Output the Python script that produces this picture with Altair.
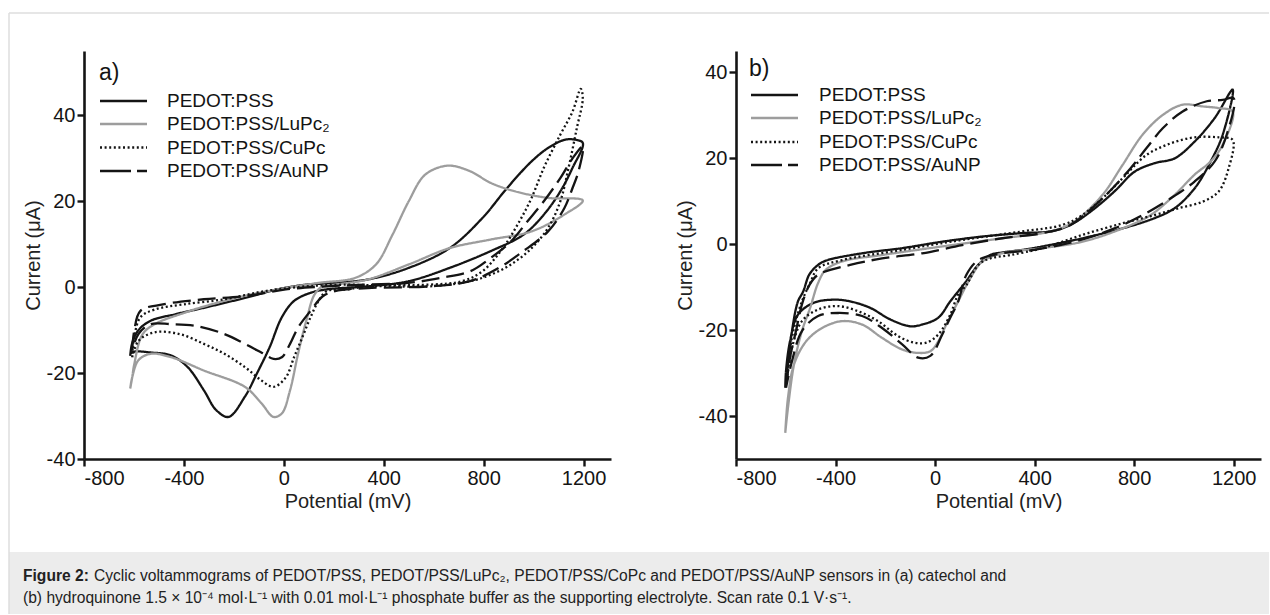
import altair as alt
import pandas as pd

FONT = "Liberation Sans, Arial, sans-serif"
INK = "#141414"

SERIES = ["PEDOT:PSS", "PEDOT:PSS/LuPc₂", "PEDOT:PSS/CuPc", "PEDOT:PSS/AuNP"]
COLORS = [INK, "#9d9d9d", INK, INK]
DASHES = [[1, 0], [1, 0], [2, 2.6], [18, 7]]
LEGEND_DASHES = [[1, 0], [1, 0], [2, 2.6], [31, 6]]

X_TICKS = [-800, -400, 0, 400, 800, 1200]
X_DOMAIN = [-800, 1310]
A_Y_TICKS = [-40, -20, 0, 20, 40]
A_Y_DOMAIN = [-40, 55]
B_Y_TICKS = [-40, -20, 0, 20, 40]
B_Y_DOMAIN = [-50, 45]

# ---- panel a) catechol : each loop from the left vertex, anodic branch to 1200 mV, back on the cathodic branch
A_PSS_X = [-615, -607, -582, -533, -435, -320, -156, -25, 90, 172, 336, 500, 664, 795, 894, 992, 1060, 1123, 1160, 1197,
           1156, 1107, 1041, 959, 828, 664, 500, 336, 172, 107, 41, -8, -57, -107, -156, -221, -271, -320, -385, -451, -533, -599, -615]
A_PSS_Y = [-16, -13, -10, -7.8, -6.3, -4.8, -2.5, -0.5, 0.6, 0.9, 1.8, 4.5, 9.1, 16.1, 23.1, 29.3, 32.5, 34.3, 34.4, 33.6,
           27.8, 22.3, 16.9, 12.2, 8.4, 4.5, 1.4, 0.2, -0.5, -1.3, -3.2, -7, -14, -20, -25.5, -30.2, -28.6, -24, -18.6, -15.9, -15.2, -15, -15.5]

A_LU_X = [-615, -607, -599, -566, -517, -400, -320, -156, 8, 139, 287, 369, 435, 500, 566, 656, 746, 828, 927, 1058, 1197,
          1123, 992, 828, 664, 500, 336, 205, 156, 123, 90, 57, 25, -8, -41, -90, -156, -320, -451, -533, -582, -607, -615]
A_LU_Y = [-23.6, -21, -18, -11, -8.6, -6, -4.5, -2, -0.2, 1, 2.2, 5.3, 12.2, 20, 26.2, 28.3, 27, 24.3, 22.3, 20.8, 20.2,
          16.9, 13, 11.1, 9.1, 5.3, 1.8, 0.6, 0.2, -1.7, -7.8, -15.5, -24, -29.4, -30.2, -27, -23.2, -19.4, -16.3, -15.5, -17, -21, -23.6]

A_CU_X = [-607, -599, -574, -517, -402, -238, -74, 90, 254, 336, 582, 713, 795, 877, 943, 992, 1041, 1107, 1156, 1189,
          1197, 1173, 1140, 1107, 1058, 992, 910, 828, 746, 582, 336, 254, 172, 139, 107, 74, 41, 8, -41, -90, -156, -238, -320, -418, -517, -582, -607]
A_CU_Y = [-16.3, -11.7, -7, -5.2, -4, -2.8, -0.9, 0.2, 0.6, 0.5, 0.6, 1.4, 3.7, 9.1, 15.3, 20.8, 27.8, 35.5, 40.9, 46.2,
          44, 37, 27.8, 20, 13.8, 9.1, 5.3, 2.9, 1.4, 0.2, 0.2, -0.5, -0.9, -3.2, -7, -11.7, -16.3, -21, -23.2, -21.7, -18.6, -15.5, -13.2, -10.9, -10.5, -12.5, -16.3]

A_AU_X = [-607, -599, -574, -484, -320, -156, 8, 172, 336, 500, 631, 746, 828, 910, 975, 1041, 1107, 1156, 1197,
          1180, 1156, 1123, 1058, 959, 861, 746, 582, 336, 205, 156, 107, 57, 25, -8, -41, -90, -156, -238, -353, -451, -533, -582, -607]
A_AU_Y = [-14.8, -10.2, -5.5, -4, -2.8, -2.1, -0.5, 0.2, 0.6, 1, 2.2, 3.7, 6.8, 10.7, 15.3, 20, 25.4, 30, 32.8,
          27, 23.1, 18.4, 13, 8.4, 4.5, 1.4, 0.2, -0.2, -0.9, -2.1, -5.5, -9.4, -13.2, -16.3, -16.7, -15.2, -13.2, -10.9, -9, -8.6, -8.6, -10.9, -14.8]

# ---- panel b) hydroquinone
B_PSS_X = [-602, -591, -575, -551, -530, -505, -470, -438, -293, -132, 29, 190, 351, 464, 544, 625, 721, 802, 883, 963, 1043, 1124, 1196,
           1156, 1108, 1043, 963, 883, 754, 593, 432, 351, 271, 222, 174, 120, 61, 13, -52, -100, -180, -261, -341, -406, -486, -551, -583, -599, -602]
B_PSS_Y = [-33.4, -28, -20.2, -13.3, -11, -7, -4.8, -3.8, -2.1, -0.9, 0.6, 1.8, 2.6, 3, 4.5, 7.6, 12.3, 16.9, 18.9, 20, 23.9, 29.4, 36,
           25.5, 19.3, 13, 8.4, 6.1, 3.7, 1.4, -0.5, -1.3, -1.9, -2.5, -4.8, -9, -13.3, -17.1, -18.7, -19.1, -17.5, -14.8, -13.3, -12.9, -13.6, -16.4, -22.6, -29.5, -33.4]

B_LU_X = [-602, -591, -567, -535, -502, -470, -440, -374, -213, 29, 270, 464, 560, 673, 754, 834, 915, 995, 1075, 1140, 1196,
          1156, 1108, 1043, 963, 866, 754, 593, 432, 270, 190, 142, 93, 45, 13, -19, -68, -132, -213, -293, -374, -454, -518, -567, -591, -602]
B_LU_Y = [-43.9, -38, -28, -20.2, -14.8, -9, -6, -4, -2.5, -0.5, 1.4, 3, 5.3, 11.5, 18.5, 25.5, 30.1, 32.5, 32.1, 31.7, 30.9,
          23.2, 19.3, 16.2, 11.5, 6.8, 3.7, 0.6, -0.9, -2.1, -4, -7.9, -13.3, -18.7, -22.6, -24.9, -25.3, -24.5, -21.8, -18.7, -17.9, -19.5, -22.6, -28, -35.7, -43.9]

B_CU_X = [-596, -586, -567, -535, -502, -470, -374, -132, 109, 351, 512, 592, 673, 754, 850, 947, 1043, 1140, 1196,
          1180, 1140, 1075, 979, 882, 754, 593, 432, 303, 222, 174, 126, 93, 61, 13, -35, -84, -148, -229, -309, -390, -470, -535, -575, -596]
B_CU_Y = [-31.9, -25.7, -19.5, -13.3, -9, -5.6, -3.7, -1.3, 1, 3, 4.5, 6.8, 10.7, 15.4, 20.8, 23.5, 24.9, 24.9, 24.3,
          17.7, 12.3, 9.9, 8.4, 6.8, 4.9, 2.2, -0.9, -2.5, -3.3, -4.8, -9.5, -11.7, -16.4, -21, -22.9, -22.9, -21.4, -17.9, -15.6, -14.4, -15.2, -17.9, -24.1, -31.9]

B_AU_X = [-599, -583, -559, -535, -505, -470, -341, -213, -52, 109, 270, 432, 544, 673, 786, 850, 915, 995, 1092, 1156, 1200,
          1172, 1124, 1043, 947, 834, 721, 560, 399, 270, 174, 126, 93, 61, 29, -19, -68, -132, -213, -293, -390, -470, -535, -575, -599]
B_AU_Y = [-33.4, -26.4, -20.2, -14, -9.5, -7.1, -4.8, -3.3, -2.1, -0.2, 1.4, 2.6, 4.5, 10.7, 17.7, 22.4, 27, 30.9, 33.3, 33.6, 34,
          25.5, 19.3, 14.6, 10.7, 6.8, 3.7, 0.6, -1.3, -2.1, -3.7, -7.1, -13.3, -17.1, -21, -26, -26.4, -23.3, -19.5, -16.7, -16, -16.7, -20.2, -27.2, -33.4]

CAPTION_BOLD = "Figure 2:"
CAPTION_1 = "Cyclic voltammograms of PEDOT/PSS, PEDOT/PSS/LuPc₂, PEDOT/PSS/CoPc and PEDOT/PSS/AuNP sensors in (a) catechol and"
CAPTION_2 = "(b) hydroquinone 1.5 × 10⁻⁴ mol·L⁻¹ with 0.01 mol·L⁻¹ phosphate buffer as the supporting electrolyte. Scan rate 0.1 V·s⁻¹."

ONE = pd.DataFrame({"k": [0]})


def panel_df(xs_list, ys_list):
    rows = []
    for name, xs, ys in zip(SERIES, xs_list, ys_list):
        for i, (x, y) in enumerate(zip(xs, ys)):
            rows.append({"series": name, "idx": i, "x": x, "y": y})
    return pd.DataFrame(rows)


def axis_kw():
    return dict(grid=False, domainColor=INK, domainWidth=2.6, tickColor=INK, tickWidth=2.4, tickSize=7,
                labelFontSize=20, titleFontSize=20, labelColor=INK, titleColor="#222", titleFontWeight="normal",
                labelFont=FONT, titleFont=FONT, labelPadding=2, labelExpr="'' + datum.value")


def cv_lines(df, ydom, yticks):
    return alt.Chart(df).mark_line(strokeWidth=2.3, interpolate="catmull-rom").encode(
        x=alt.X("x:Q", scale=alt.Scale(domain=X_DOMAIN, nice=False, zero=False),
                axis=alt.Axis(title="Potential (mV)", values=X_TICKS, titlePadding=3, **axis_kw())),
        y=alt.Y("y:Q", scale=alt.Scale(domain=ydom, nice=False, zero=False),
                axis=alt.Axis(title="Current (μA)", values=yticks, titlePadding=3, **axis_kw())),
        color=alt.Color("series:N", scale=alt.Scale(domain=SERIES, range=COLORS), legend=None),
        strokeDash=alt.StrokeDash("series:N", scale=alt.Scale(domain=SERIES, range=DASHES), legend=None),
        detail="series:N",
        order=alt.Order("idx:Q"),
    )


def legend_layers(tag, tag_xy, lx0, lx1, tx, rows_y):
    out = [alt.Chart(ONE).mark_text(text=tag, align="left", baseline="middle", fontSize=23, font=FONT, color=INK)
           .encode(x=alt.value(tag_xy[0]), y=alt.value(tag_xy[1]))]
    for name, col, dash, yy in zip(SERIES, COLORS, LEGEND_DASHES, rows_y):
        out.append(alt.Chart(ONE).mark_rule(color=col, strokeWidth=2.6, strokeDash=dash)
                   .encode(x=alt.value(lx0), x2=alt.value(lx1), y=alt.value(yy)))
        out.append(alt.Chart(ONE).mark_text(text=name, align="left", baseline="middle", fontSize=19, font=FONT, color=INK)
                   .encode(x=alt.value(tx), y=alt.value(yy)))
    return out


W_A, W_B, H = 527, 525, 408

# figure frame and caption box (pixel offsets relative to panel a plot origin)
frame = [
    alt.Chart(ONE).mark_rect(color="#ececec").encode(
        x=alt.value(-75), x2=alt.value(1185), y=alt.value(501), y2=alt.value(563)),
    alt.Chart(ONE).mark_rule(color="#dedede", strokeWidth=1.5).encode(
        x=alt.value(-75), x2=alt.value(1185), y=alt.value(-38)),
    alt.Chart(ONE).mark_rule(color="#dedede", strokeWidth=1.5).encode(
        x=alt.value(-75), y=alt.value(-38), y2=alt.value(563)),
    alt.Chart(ONE).mark_text(text=CAPTION_BOLD, align="left", baseline="middle", fontSize=15.6, font=FONT,
                             fontWeight="bold", color="#222").encode(x=alt.value(-61), y=alt.value(525)),
    alt.Chart(ONE).mark_text(text=CAPTION_1, align="left", baseline="middle", fontSize=15.6, font=FONT,
                             color="#222").encode(x=alt.value(10), y=alt.value(525)),
    alt.Chart(ONE).mark_text(text=CAPTION_2, align="left", baseline="middle", fontSize=15.6, font=FONT,
                             color="#222").encode(x=alt.value(-61), y=alt.value(547)),
]

df_a = panel_df([A_PSS_X, A_LU_X, A_CU_X, A_AU_X], [A_PSS_Y, A_LU_Y, A_CU_Y, A_AU_Y])
df_b = panel_df([B_PSS_X, B_LU_X, B_CU_X, B_AU_X], [B_PSS_Y, B_LU_Y, B_CU_Y, B_AU_Y])

panel_a = alt.layer(
    *frame,
    cv_lines(df_a, A_Y_DOMAIN, A_Y_TICKS),
    *legend_layers("a)", (15, 22), 16, 63, 83, [50, 73, 96.5, 120]),
).properties(width=W_A, height=H)

panel_b = alt.layer(
    cv_lines(df_b, B_Y_DOMAIN, B_Y_TICKS),
    *legend_layers("b)", (13, 18), 15, 62, 83, [44, 67, 91, 114]),
).properties(width=W_B, height=H)

chart = alt.hconcat(panel_a, panel_b, spacing=125, bounds="flush").properties(
    padding={"left": 8, "top": 12, "right": 0, "bottom": 0},
    background="white",
).configure_view(stroke=None)

chart.save("out.html", embed_options={"renderer": "svg", "actions": False})
